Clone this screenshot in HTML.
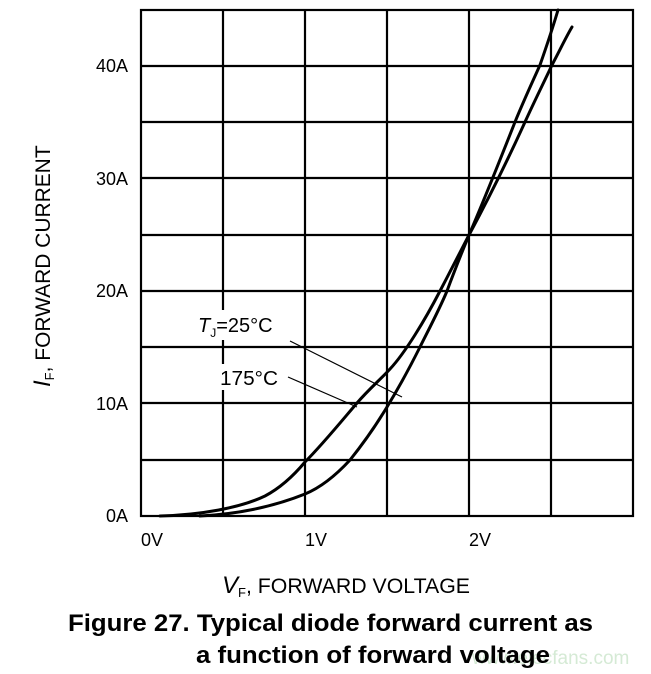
<!DOCTYPE html>
<html><head><meta charset="utf-8"><style>
html,body{margin:0;padding:0;background:#fff;}
svg{display:block;}
text{font-family:"Liberation Sans",Arial,sans-serif;fill:#000;}
</style></head><body>
<svg width="651" height="674" viewBox="0 0 651 674" xmlns="http://www.w3.org/2000/svg">
<g stroke="#000" stroke-width="2.2" fill="none">
<rect x="141" y="10" width="492" height="506"/>
<line x1="223" y1="10" x2="223" y2="516"/>
<line x1="305" y1="10" x2="305" y2="516"/>
<line x1="387" y1="10" x2="387" y2="516"/>
<line x1="469" y1="10" x2="469" y2="516"/>
<line x1="551" y1="10" x2="551" y2="516"/>
<line x1="141" y1="66" x2="633" y2="66"/>
<line x1="141" y1="122" x2="633" y2="122"/>
<line x1="141" y1="178" x2="633" y2="178"/>
<line x1="141" y1="235" x2="633" y2="235"/>
<line x1="141" y1="291" x2="633" y2="291"/>
<line x1="141" y1="347" x2="633" y2="347"/>
<line x1="141" y1="403" x2="633" y2="403"/>
<line x1="141" y1="460" x2="633" y2="460"/>
</g>
<rect x="196" y="310" width="84" height="30" fill="#fff"/>
<rect x="218" y="364" width="62" height="26" fill="#fff"/>
<g stroke="#000" stroke-width="3" fill="none" stroke-linejoin="round" stroke-linecap="round">
<path d="M160,516 C200,515 240,508 265,496 C282,487 295,474 305,462 C322,445 340,423 357,403 C370,388 380,380 390,369 C405,353 425,320 440,291 C450,272 460,252 469,235 C490,196 510,155 525,122 C535,100 545,80 552,65 C560,50 566,37 572,27"/>
<path d="M200,516 C240,514 275,506 305,494 C322,487 338,473 350,460 C362,445 375,427 387,407 C398,389 410,367 420,347 C430,327 440,308 447,291 C454,272 462,252 469,235 C485,198 500,160 515,122 C524,100 532,83 540,65 C547,45 553,27 558,10"/>
</g>
<g stroke="#000" stroke-width="1.2">
<line x1="290" y1="341" x2="402" y2="397"/>
<line x1="288" y1="377" x2="357" y2="407"/>
</g>
<g font-size="18" text-anchor="end">
<text x="128" y="72">40A</text>
<text x="128" y="185">30A</text>
<text x="128" y="297">20A</text>
<text x="128" y="410">10A</text>
<text x="128" y="522">0A</text>
</g>
<g font-size="18">
<text x="141" y="546">0V</text>
<text x="305" y="546">1V</text>
<text x="469" y="546">2V</text>
</g>
<text x="198" y="332" font-size="20"><tspan font-style="italic">T</tspan><tspan font-size="12" dy="5">J</tspan><tspan dy="-5">=25°C</tspan></text>
<text x="220" y="385" font-size="20" textLength="58" lengthAdjust="spacingAndGlyphs">175°C</text>
<text x="222" y="593" font-size="21"><tspan font-style="italic" font-size="24">V</tspan><tspan font-size="13" dy="4">F</tspan><tspan dy="-4" textLength="224" lengthAdjust="spacingAndGlyphs">, FORWARD VOLTAGE</tspan></text>
<text transform="translate(50,387) rotate(-90)" font-size="21"><tspan font-style="italic" font-size="24">I</tspan><tspan font-size="13" dy="4">F</tspan><tspan dy="-4" textLength="227" lengthAdjust="spacingAndGlyphs">, FORWARD CURRENT</tspan></text>
<text x="472" y="664" font-size="19" style="fill:#d5ead5">www.elecfans.com</text>
<text x="68" y="631" font-size="24" font-weight="bold" textLength="525" lengthAdjust="spacingAndGlyphs">Figure 27. Typical diode forward current as</text>
<text x="196" y="663" font-size="24" font-weight="bold" textLength="354" lengthAdjust="spacingAndGlyphs">a function of forward voltage</text>
</svg>
</body></html>
